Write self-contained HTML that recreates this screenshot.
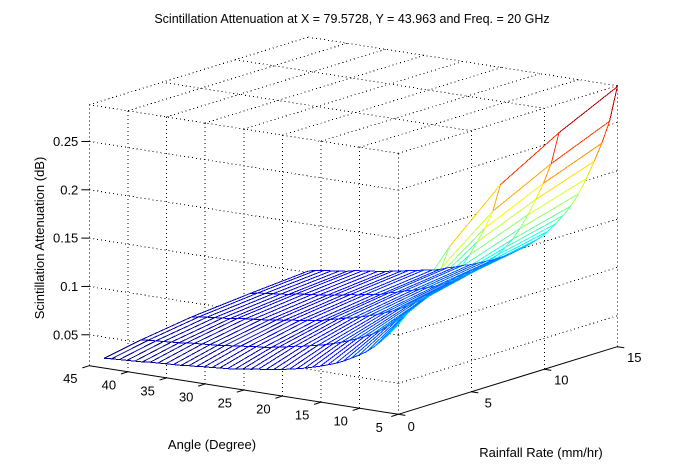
<!DOCTYPE html>
<html><head><meta charset="utf-8"><style>
html,body{margin:0;padding:0;background:#fff;}
svg{display:block;font-family:"Liberation Sans",Arial,sans-serif;}
</style></head><body>
<svg id="chart" width="684" height="466" viewBox="0 0 684 466" xmlns="http://www.w3.org/2000/svg">
<rect width="684" height="466" fill="#fff"/>
<text x="352" y="23" font-size="12.5" text-anchor="middle">Scintillation Attenuation at X = 79.5728, Y = 43.963 and Freq. = 20 GHz</text>
<text x="0" y="0" font-size="13" text-anchor="middle" transform="translate(44,238) rotate(-90)">Scintillation Attenuation (dB)</text>
<text x="212" y="449" font-size="13" text-anchor="middle">Angle (Degree)</text>
<text x="541" y="457" font-size="13" text-anchor="middle">Rainfall Rate (mm/hr)</text>
<g id="grid" shape-rendering="crispEdges"></g>
<g id="surface" shape-rendering="crispEdges"></g>
<g id="axes"></g>
</svg>
<script>
// ---- data ----
const angles = [5,6,7,8,9,10,11,12,13,14,15,16,17,18,19,20,21,22,23,24,25,26,27,28,29,30,31,32,33,34,35,36,37,38,39,40,41,42,43,44,45];
const rainRates = [1, 3.5, 7, 11, 15];
// attenuation (dB) along the rain = 15 mm/hr edge, per angle
const attenAtRain15 = [0.287,0.250,0.226,0.206,0.187,0.170,0.156,0.145,0.135,0.126,0.118,0.112,0.106,0.101,0.096,0.092,0.088,0.085,0.082,0.079,0.077,0.074,0.072,0.069,0.067,0.066,0.064,0.063,0.061,0.060,0.058,0.057,0.056,0.055,0.054,0.052,0.051,0.050,0.049,0.048,0.046];
// attenuation (dB) along the angle = 5 deg edge, per rain rate
const attenAtAngle5 = [0.130, 0.175, 0.223, 0.258, 0.287];
const angleTicks = [5,10,15,20,25,30,35,40,45];
const rainTicks = [0,5,10,15];
const zTicks = [0.05,0.1,0.15,0.2,0.25];
const zTickLabels = ["0.05","0.1","0.15","0.2","0.25"];

// ---- axis functions ----
const ZMIN = 0.018, ZMAX = 0.288;
function P(a, r, z){
  const x = 398.3 + 14.6*r - 7.725*(a-5);
  const y = 414.3 - 4.507*r - 1.215*(a-5) - (z-ZMIN)*966.5;
  return [x, y];
}
const NS = "http://www.w3.org/2000/svg";
function mk(tag, parent){ const e = document.createElementNS(NS, tag); parent.appendChild(e); return e; }
function line(parent, p1, p2, stroke, dash){
  const l = mk('line', parent);
  l.setAttribute('x1', p1[0].toFixed(2)); l.setAttribute('y1', p1[1].toFixed(2));
  l.setAttribute('x2', p2[0].toFixed(2)); l.setAttribute('y2', p2[1].toFixed(2));
  l.setAttribute('stroke', stroke); l.setAttribute('stroke-width', '1');
  if (dash) l.setAttribute('stroke-dasharray', dash);
  return l;
}
const grid = document.getElementById('grid');
const surf = document.getElementById('surface');
const axes = document.getElementById('axes');
const D = "1 3";
angleTicks.forEach(a => {
  const l = line(grid, P(a,0,ZMIN), P(a,0,ZMAX), '#000', D);
  
  
  const t = line(grid, P(a,0,ZMAX), P(a,15,ZMAX), '#000', D);
  
  
});
rainTicks.forEach(r => {
  const l = line(grid, P(5,r,ZMIN), P(5,r,ZMAX), '#000', D);
  
  
  const t = line(grid, P(5,r,ZMAX), P(45,r,ZMAX), '#000', D);
  
  
});
zTicks.forEach(z => {
  const l = line(grid, P(45,0,z), P(5,0,z), '#000', D);
  
  
  const m = line(grid, P(5,0,z), P(5,15,z), '#000', D);
  
  
});

// ---- surface ----
function Z(i, j){ return attenAtRain15[i] * attenAtAngle5[j] / attenAtAngle5[attenAtAngle5.length-1]; }
let cmin = Infinity, cmax = -Infinity;
for (let i=0;i<angles.length;i++) for (let j=0;j<rainRates.length;j++){ const z=Z(i,j); cmin=Math.min(cmin,z); cmax=Math.max(cmax,z); }
function jet(v){
  v = Math.max(0, Math.min(1, v));
  const f = t => Math.max(0, Math.min(1, t));
  const r = f(1.5 - Math.abs(4*v - 3)), g = f(1.5 - Math.abs(4*v - 2)), b = f(1.5 - Math.abs(4*v - 1));
  return `rgb(${Math.round(r*255)},${Math.round(g*255)},${Math.round(b*255)})`;
}
function col(z1, z2){ return jet(((z1+z2)/2 - cmin)/(cmax - cmin)); }
const quads = [];
for (let i=0;i<angles.length-1;i++){
  for (let j=0;j<rainRates.length-1;j++){
    const key = (angles[i]-5)/40 + rainRates[j]/15;
    quads.push({i, j, key});
  }
}
quads.sort((A,B) => A.key - B.key);
quads.forEach(q => {
  const {i, j} = q;
  const c = [[i,j],[i+1,j],[i+1,j+1],[i,j+1]];
  const pts = c.map(([ii,jj]) => P(angles[ii], rainRates[jj], Z(ii,jj)));
  const poly = mk('polygon', surf);
  poly.setAttribute('points', pts.map(p => p[0].toFixed(2)+','+p[1].toFixed(2)).join(' '));
  poly.setAttribute('fill', '#fff');
  
  
  for (let k=0;k<4;k++){
    const a = c[k], b = c[(k+1)%4];
    const e = line(surf, pts[k], pts[(k+1)%4], col(Z(a[0],a[1]), Z(b[0],b[1])));
    
    
  }
});

// ---- axes ----
const ax1 = line(axes, P(45,0,ZMIN), P(5,0,ZMIN), '#000');


const ax2 = line(axes, P(5,0,ZMIN), P(5,15,ZMIN), '#000');


function txt(x, y, s, anchor, name){
  const t = mk('text', axes);
  t.setAttribute('x', x.toFixed(1)); t.setAttribute('y', y.toFixed(1));
  t.setAttribute('font-size', '13'); t.setAttribute('text-anchor', anchor);
  t.setAttribute('dominant-baseline', 'central');
  t.textContent = s;
  
  
}
angleTicks.forEach(a => {
  const p = P(a,0,ZMIN);
  const tk = line(axes, p, [p[0]-7, p[1]+2.2], '#000');
  
  
  txt(p[0]-19, p[1]+13, String(a), 'middle', 'angle-tick-label');
});
rainTicks.forEach(r => {
  const p = P(5,r,ZMIN);
  const tk = line(axes, p, [p[0]+7, p[1]+1.1], '#000');
  
  
  txt(p[0]+(r===0?13:17), p[1]+(r===0?12:11), String(r), 'middle', 'rain-tick-label');
});
zTicks.forEach((z, k) => {
  const p = P(45,0,z);
  const tk = line(axes, [p[0]-8, p[1]], p, '#000');
  
  
  txt(p[0]-11, p[1], zTickLabels[k], 'end', 'z-tick-label');
});
</script>
</body></html>
